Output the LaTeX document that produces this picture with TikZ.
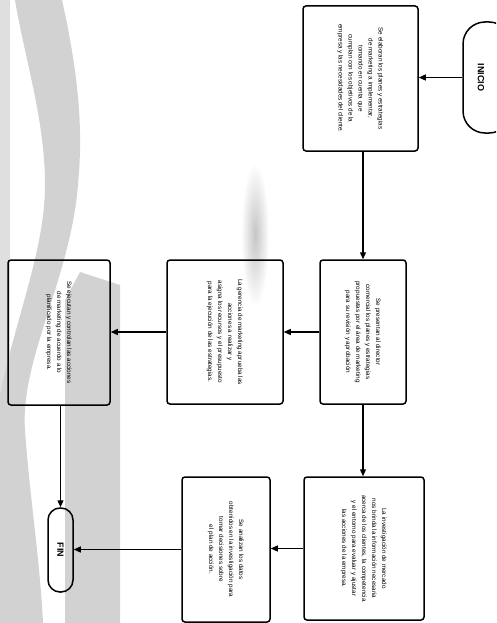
\documentclass[tikz,border=0pt]{standalone}
\usepackage{fontspec}
\usepackage{graphicx}
\setmainfont{Liberation Sans}
\usetikzlibrary{arrows.meta}

% text of a process box, turned a quarter turn clockwise
\newcommand{\boxtext}[1]{\rotatebox{-90}{\fontsize{6.3}{10}\selectfont\begin{tabular}{@{}c@{}}#1\end{tabular}}}
\newcommand{\termtext}[1]{\rotatebox{-90}{\fontsize{9}{10}\selectfont\bfseries #1}}

\begin{document}
\begin{tikzpicture}[x=1pt,y=-1pt,
  stepbox/.style={draw, line width=1.5pt, rounded corners=3pt, inner sep=0pt},
  termbox/.style={draw, line width=1.5pt, inner sep=0pt},
  conn/.style={line width=1.2pt, -{Triangle[length=7pt,width=6pt]}},
  band/.style={fill=gray!35, draw=none}]

\useasboundingbox (0,0) rectangle (496,623);
\clip (0,0) rectangle (496,623);

% shaded fold of the sheet
\fill[gray!25] (0,0) rectangle (10,623);
\fill[band] (15,0) -- (62,0) .. controls (82,90) and (82,140) .. (78,185)
  .. controls (70,280) and (20,360) .. (25,430)
  .. controls (30,500) and (40,560) .. (43,623) -- (0,623) -- (0,395)
  .. controls (15,320) and (45,250) .. (45,185)
  .. controls (45,120) and (25,60) .. (15,0) -- cycle;
\fill[band] (65,300) -- (80,272) -- (120,285) -- (120,623) -- (65,623) -- cycle;
\shade[inner color=gray!45, outer color=white] (255,235) ellipse (14 and 72);

% terminals
\node[termbox, rounded corners=22pt, minimum width=48, minimum height=111]
  (ini) at (487,77.5) {};
\node[anchor=center] (initxt) at (481,77.5) {\termtext{INICIO}};
\node[termbox, rounded corners=12pt, minimum width=25, minimum height=84]
  (fin) at (60.5,550) {\termtext{FIN}};

% process steps
\node[stepbox, minimum width=115, minimum height=145] (b1) at (360.5,78.5)
  {\boxtext{Se elaboran los planes y estrategias\\de marketing a implementar,\\tomando en cuenta que\\cumplan con los objetivos de la\\empresa y las necesidades del cliente.}};
\node[stepbox, minimum width=86, minimum height=144] (b2) at (363,332)
  {\boxtext{Se presentan al director\\comercial los planes y estrategias\\propuestas por el área de marketing\\para su revisión y aprobación}};
\node[stepbox, minimum width=120, minimum height=143] (b3) at (364,548.5)
  {\boxtext{La investigación de mercado\\nos brinda la información necesaria\\acerca de los clientes, la competencia\\y el entorno para evaluar y ajustar\\las acciones de la empresa.}};
\node[stepbox, minimum width=116, minimum height=144] (b4) at (225,332)
  {\boxtext{La gerencia de marketing aprueba las\\acciones a realizar y\\asigna los recursos y el presupuesto\\para la ejecución de las estrategias.}};
\node[stepbox, minimum width=88, minimum height=145] (b5) at (226,549.5)
  {\boxtext{Se analizan los datos\\obtenidos en la investigación para\\tomar decisiones sobre\\el plan de acción.}};
\node[stepbox, minimum width=102, minimum height=145] (b6) at (59,332.5)
  {\boxtext{Se ejecutan y controlan las acciones\\de marketing de acuerdo a lo\\planificado por la empresa.}};

% connectors
\draw[conn] (ini.west) -- (ini.west -| b1.east);
\draw[conn] (b2.north |- b1.south) -- (b2.north);
\draw[conn] (b2.south) -- (b2.south |- b3.north);
\draw[conn] (b2.west) -- (b2.west -| b4.east);
\draw[conn] (b4.west) -- (b4.west -| b6.east);
\draw[conn] (fin.north |- b6.south) -- (fin.north);
\draw[conn] (b3.west) -- (b3.west -| b5.east);
\draw[conn] (b5.west) -- (b5.west -| fin.east);
\end{tikzpicture}
\end{document}
